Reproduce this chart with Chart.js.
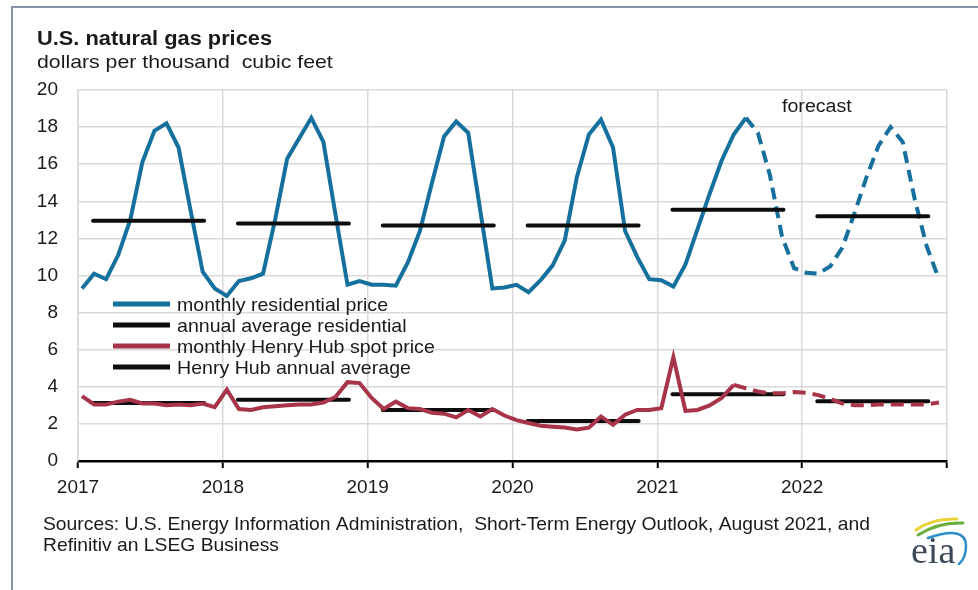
<!DOCTYPE html>
<html>
<head>
<meta charset="utf-8">
<title>U.S. natural gas prices</title>
<script src="https://cdn.jsdelivr.net/npm/chart.js@4.4.1/dist/chart.umd.min.js"></script>
<style>
  html, body { margin: 0; padding: 0; background: #fff; }
  #wrap { position: relative; width: 978px; height: 590px; }
</style>
</head>
<body>
<div id="wrap"><canvas id="gasChart"></canvas></div>
<script>
// years shown on the axis
const years = [2017, 2018, 2019, 2020, 2021, 2022];

// monthly residential price, Jan 2017 - Aug 2021 (history)
const residentialHistory = [
  9.3, 10.1, 9.8, 11.1, 13.0, 16.1, 17.8, 18.2, 16.9, 13.5, 10.2, 9.3,
  8.9, 9.7, 9.85, 10.1, 13.0, 16.3, 17.4, 18.5, 17.2, 13.3, 9.5, 9.7,
  9.5, 9.5, 9.45, 10.7, 12.4, 15.0, 17.5, 18.3, 17.7, 13.5, 9.3, 9.35,
  9.5, 9.1, 9.75, 10.55, 11.9, 15.3, 17.6, 18.4, 16.9, 12.4, 11.0, 9.8,
  9.75, 9.4, 10.6, 12.5, 14.4, 16.2, 17.6, 18.5
];
// forecast, Aug 2021 - Dec 2022
const residentialForecast = [
  18.5, 17.7, 15.4, 12.1, 10.4, 10.15, 10.1, 10.5, 11.5, 13.35, 15.3, 17.0,
  18.0, 17.2, 14.1, 11.55, 9.8
];
const residentialForecastStart = 55; // month index of Aug 2021

// monthly Henry Hub spot price, Jan 2017 - Jul 2021
const henryHubHistory = [
  3.5, 3.05, 3.05, 3.2, 3.3, 3.1, 3.1, 3.0, 3.05, 3.0, 3.1, 2.9,
  3.85, 2.8, 2.75, 2.9, 2.95, 3.0, 3.05, 3.05, 3.15, 3.45, 4.25, 4.2,
  3.4, 2.8, 3.2, 2.85, 2.8, 2.6, 2.55, 2.35, 2.75, 2.4, 2.8, 2.45,
  2.2, 2.05, 1.9, 1.85, 1.8, 1.7, 1.8, 2.4, 1.95, 2.5, 2.75, 2.75,
  2.85, 5.6, 2.7, 2.75, 3.0, 3.4, 4.1
];
// forecast, Jul 2021 - Dec 2022
const henryHubForecast = [
  4.1, 3.92, 3.75, 3.65, 3.65, 3.72, 3.68, 3.55, 3.35, 3.1, 3.0, 3.0,
  3.05, 3.05, 3.05, 3.05, 3.05, 3.15
];
const henryHubForecastStart = 54; // month index of Jul 2021

// annual averages
const residentialAnnual = [12.95, 12.8, 12.7, 12.7, 13.55, 13.2];
const henryHubAnnual = [3.13, 3.3, 2.75, 2.16, 3.6, 3.22];

const legendLabels = [
  "monthly residential price",
  "annual average residential",
  "monthly Henry Hub spot price",
  "Henry Hub annual average"
];

const BLUE = "#16709e";
const RED = "#a8344a";
const BLACK = "#0d0d0d";
const FONT = "'Liberation Sans', Arial, sans-serif";

function monthX(i) {
  return 2017 + (i + 0.33) / 12;
}

function toPoints(values, start) {
  return values.map((v, k) => ({ x: monthX(start + k), y: v }));
}

function annualPoints(values) {
  const pts = [];
  values.forEach((v, k) => {
    pts.push({ x: years[k] + 1.25 / 12, y: v });
    pts.push({ x: years[k] + 10.45 / 12, y: v });
    pts.push({ x: years[k] + 0.95, y: null });
  });
  return pts;
}

// text a bit wider than the font, like the original picture
function wideText(ctx, text, x, y, stretch) {
  ctx.save();
  ctx.translate(x, y);
  ctx.scale(stretch, 1);
  ctx.fillText(text, 0, 0);
  ctx.restore();
}

const lineBase = {
  pointRadius: 0,
  pointHoverRadius: 0,
  borderWidth: 4,
  tension: 0,
  fill: false,
  spanGaps: false
};

// extra drawing: frame, titles, legend, notes, logo
const decor = {
  id: "decor",
  beforeDraw(chart) {
    const ctx = chart.ctx;
    ctx.save();
    ctx.strokeStyle = "#8393a8";
    ctx.lineWidth = 2;
    ctx.beginPath();
    ctx.moveTo(12, 590);
    ctx.lineTo(12, 7);
    ctx.lineTo(978, 7);
    ctx.stroke();
    ctx.restore();
  },
  afterDraw(chart) {
    const ctx = chart.ctx;
    ctx.save();
    ctx.fillStyle = "#1a1a1a";
    ctx.textBaseline = "alphabetic";
    ctx.textAlign = "left";

    ctx.font = "bold 20px " + FONT;
    wideText(ctx, "U.S. natural gas prices", 37, 45, 1.09);
    ctx.font = "19px " + FONT;
    wideText(ctx, "dollars per thousand  cubic feet", 37, 68, 1.12);

    ctx.font = "18px " + FONT;
    wideText(ctx, "forecast", 782, 112, 1.09);

    // legend
    const colors = [BLUE, BLACK, RED, BLACK];
    ctx.font = "19px " + FONT;
    legendLabels.forEach((label, i) => {
      const y = 304 + i * 21;
      ctx.strokeStyle = colors[i];
      ctx.lineWidth = 5;
      ctx.beginPath();
      ctx.moveTo(113, y);
      ctx.lineTo(170, y);
      ctx.stroke();
      wideText(ctx, label, 177, y + 7, 1.03);
    });

    // sources
    const src1 = "Sources: U.S. Energy Information Administration,  Short-Term Energy Outlook, August 2021, and";
    const src2 = "Refinitiv an LSEG Business";
    ctx.font = "19px " + FONT;
    const sx = 827 / ctx.measureText(src1).width;
    wideText(ctx, src1, 43, 530, sx);
    wideText(ctx, src2, 43, 551, sx);

    // eia logo
    ctx.lineCap = "round";
    ctx.lineWidth = 3;
    ctx.strokeStyle = "#e8d33a";
    ctx.beginPath();
    ctx.moveTo(916, 530);
    ctx.quadraticCurveTo(932, 518, 957, 519);
    ctx.stroke();
    ctx.strokeStyle = "#6aae3e";
    ctx.beginPath();
    ctx.moveTo(918, 535);
    ctx.quadraticCurveTo(938, 522, 963, 523);
    ctx.stroke();
    ctx.strokeStyle = "#2a8fc9";
    ctx.lineWidth = 2.5;
    ctx.beginPath();
    ctx.moveTo(928, 538);
    ctx.quadraticCurveTo(966, 525, 966, 546);
    ctx.quadraticCurveTo(966, 558, 959, 564);
    ctx.stroke();
    ctx.fillStyle = "#3c4858";
    ctx.font = "38px 'Liberation Serif', 'DejaVu Serif', serif";
    ctx.fillText("eia", 911, 563);
    ctx.restore();
  }
};

const chart = new Chart(document.getElementById("gasChart"), {
  type: "line",
  data: {
    datasets: [
      { ...lineBase, data: toPoints(henryHubHistory, 0), borderColor: RED },
      { ...lineBase, data: toPoints(henryHubForecast, henryHubForecastStart), borderColor: RED, borderDash: [13, 7] },
      { ...lineBase, data: annualPoints(henryHubAnnual), borderColor: BLACK, borderCapStyle: "round" },
      { ...lineBase, data: annualPoints(residentialAnnual), borderColor: BLACK, borderCapStyle: "round" },
      { ...lineBase, data: toPoints(residentialHistory, 0), borderColor: BLUE },
      { ...lineBase, data: toPoints(residentialForecast, residentialForecastStart), borderColor: BLUE, borderDash: [12, 7] }
    ]
  },
  options: {
    responsive: true,
    maintainAspectRatio: false,
    animation: false,
    events: [],
    layout: { padding: { top: 90, right: 31, left: 0, bottom: 0 } },
    plugins: {
      legend: { display: false },
      tooltip: { enabled: false },
      title: { display: false }
    },
    scales: {
      x: {
        type: "linear",
        min: 2017,
        max: 2023,
        afterFit: s => { s.height = 129; },
        ticks: {
          stepSize: 1,
          autoSkip: false,
          maxRotation: 0,
          padding: 8,
          color: "#1a1a1a",
          font: { family: FONT, size: 19 },
          callback: v => (v < 2023 ? String(Math.round(v)) : "")
        },
        grid: {
          color: "#d9d9d9",
          lineWidth: 1.5,
          tickColor: "#000",
          tickLength: 7,
          tickWidth: 2
        },
        border: { color: "#000", width: 2.5 }
      },
      y: {
        min: 0,
        max: 20,
        afterFit: s => { s.width = 78; },
        ticks: {
          stepSize: 2,
          padding: 20,
          color: "#1a1a1a",
          font: { family: FONT, size: 19 }
        },
        grid: {
          color: "#d9d9d9",
          lineWidth: 1.5,
          drawTicks: false
        },
        border: { color: "#d9d9d9", width: 1.5 }
      }
    }
  },
  plugins: [decor]
});
</script>
</body>
</html>
